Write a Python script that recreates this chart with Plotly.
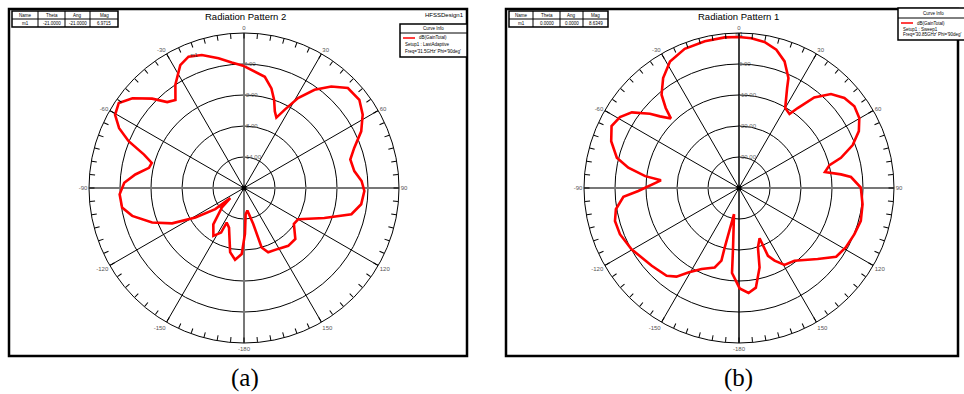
import plotly.graph_objects as go

W, H = 964, 394

# ---------------- data ----------------
# Panel (a): Radiation Pattern 2  (theta in deg, clockwise from top; gain in dB)
theta_a = [0, 10.6, 15.4, 18.9, 21.9, 24.7, 27.5, 31, 35.7, 40.7, 46.1, 52.6, 58.3, 64.2, 70, 75,
           81.3, 86.6, 91.4, 97.9, 103.7, 110.5, 120, 125.8, 134.8, 142.6, 150.8, 159.4, 163.5,
           165.6, 171.5, 176.4, 178.8, 182, 187.1, 192.2, 200.7, 206.6, 207.2, 212.6, 220.2, 228.6,
           233.6, 233.7, 238.8, 243.8, 249.4, 256, 260.9, 267.1, 272.5, 277.1, 282, 285.2, 288.5,
           292.1, 295.6, 299.6, 304.2, 308.8, 314.2, 318.2, 322.1, 326.4, 332.6, 337.1, 342.4,
           348.9, 354.4, 360]
gain_a = [3.6, 1.9, 0.0, -2.0, -4.0, -5.0, -2.9, 0.3, 3.4, 5.9, 7.9, 8.1, 7.0, 5.2, 2.7, 1.3,
          1.6, 2.8, 3.3, 2.9, 1.4, -3.4, -7.9, -8.1, -6.0, -5.9, -6.5, -6.7, -8.0,
          -12.8, -15.6, -14.9, -11.1, -7.2, -6.0, -7.3, -11.8, -12.5, -10.3, -9.0, -10.8, -14.3,
          -16.7, -13.1, -9.0, -4.5, -1.0, 2.3, 3.9, 4.1, 3.2, 1.2, -1.2, -1.5, 0.4,
          4.1, 6.8, 8.7, 9.3, 7.7, 4.8, 2.3, 1.6, 4.0, 6.8, 7.6, 7.0,
          5.6, 4.4, 3.6]

# Panel (b): Radiation Pattern 1
theta_b = [0, 4.7, 9.9, 15.1, 19.8, 24.2, 25.7, 30, 34.3, 36.3, 39.7, 44.4, 49.5, 54.7, 59.8,
           64.6, 69.3, 73.5, 75.8, 79.5, 82.4, 84.4, 89.8, 97.5, 105.1, 111.8, 119.1, 125.3,
           132.1, 142.7, 149.4, 153.9, 156.9, 157.7, 162.3, 165.5, 170.4, 174.8, 179.6, 184.7,
           185.7, 190.8, 193.5, 193.6, 197, 204.8, 211, 215.2, 219.5, 228.3, 240.3, 248.8,
           255.1, 260.2, 265.6, 268.3, 275.6, 277.2, 280.4, 283.9, 290.1, 295.9, 300.8, 305.2,
           309.8, 312.2, 315.6, 317.5, 320.3, 325.4, 331.4, 338.7, 346.9, 354.6, 360]
gain_b = [8.7, 8.5, 7.8, 6.2, 3.4, -1.1, -4.2, -10.2, -11.1, -8.0, -2.0, 2.4, 4.7, 5.6, 4.9,
          2.8, -0.8, -5.7, -9.9, -11.8, -6.8, -3.7, -0.7, 0.2, 0.7, 0.1, -0.6, -1.6,
          -5.8, -10.5, -11.2, -13.9, -16.2, -22.5, -19.9, -13.5, -7.4, -6.0, -7.6, -12.5,
          -20.7, -31.4, -20.3, -15.9, -13.2, -11.2, -8.2, -5.0, -3.3, -2.3, -0.1, 1.2,
          1.4, 0.3, -2.6, -7.5, -14.7, -9.5, -3.7, 0.6, 3.9, 5.7, 4.7, 2.3,
          -2.6, -5.6, -8.6, -5.0, -0.9, 3.1, 6.5, 8.2, 8.6, 8.8, 8.7]

range_a = [-20, 10]
rticks_a = [-14, -8, -2, 4]
rtext_a = ["-14.00", "-8.00", "-2.00", "4.00"]
range_b = [-40, 10]
rticks_b = [-30, -20, -10, 0]
rtext_b = ["-30.00", "-20.00", "-10.00", "0.00"]

ang_vals = list(range(0, 360, 5))
ang_major = {0: "0", 30: "30", 60: "60", 90: "90", 120: "120", 150: "150", 180: "-180",
             210: "-150", 240: "-120", 270: "-90", 300: "-60", 330: "-30"}
ang_text = [ang_major.get(v, "") for v in ang_vals]

marker_a = dict(theta=-21.0, mag=6.9715)
marker_b = dict(theta=0.0, mag=8.6349)

table_head = ["Name", "Theta", "Ang", "Mag"]
table_a = ["m1", "-21.0000", "-21.0000", "6.9715"]
table_b = ["m1", "0.0000", "0.0000", "8.6349"]

titles = ["Radiation Pattern 2", "Radiation Pattern 1"]
legend_a = ["dB(GainTotal)", "Setup1 : LastAdaptive", "Freq='31.5GHz' Phi='90deg'"]
legend_b = ["dB(GainTotal)", "Setup1 : Sweep1", "Freq='30.85GHz' Phi='90deg'"]
captions = ["(a)", "(b)"]

# ---------------- figure ----------------
FONT = "Liberation Sans, Arial, sans-serif"
def px(x): return x / W
def py(y): return 1 - y / H

fig = go.Figure()

R = 155
centers = [(244, 188), (739, 188)]

def add_panel(sub, th, g, rng, mk, tv, tt, vstyle):
    # spokes every 30 deg
    for t in (30, 60, 120, 150):
        fig.add_trace(go.Scatterpolar(r=[rng[1], rng[0], rng[1]], theta=[t, t, t + 180], mode="lines",
                                      line=dict(color="black", width=1), hoverinfo="skip",
                                      showlegend=False, subplot=sub))
    fig.add_trace(go.Scatterpolar(r=[rng[1], rng[0], rng[1]], theta=[90, 90, 270], mode="lines",
                                  line=dict(color="#777777", width=2), hoverinfo="skip",
                                  showlegend=False, subplot=sub))
    fig.add_trace(go.Scatterpolar(r=[rng[1], rng[0], rng[1]], theta=[0, 0, 180], mode="lines",
                                  line=vstyle, hoverinfo="skip", showlegend=False, subplot=sub))
    # radial tick labels, to the right of the vertical axis
    fig.add_trace(go.Scatterpolar(r=tv, theta=[0] * len(tv), mode="text", text=tt,
                                  textposition="middle right", hoverinfo="skip",
                                  textfont=dict(size=6, color="#666666", family=FONT),
                                  showlegend=False, subplot=sub))
    fig.add_trace(go.Scatterpolar(r=g, theta=th, mode="lines", line=dict(color="#ff0000", width=2.6),
                                  showlegend=False, subplot=sub))
    fig.add_trace(go.Scatterpolar(r=[rng[0]], theta=[0], mode="markers",
                                  marker=dict(color="black", size=5), showlegend=False, subplot=sub))
    fig.add_trace(go.Scatterpolar(r=[mk["mag"]], theta=[mk["theta"]], mode="text", text=["m1"],
                                  textposition="top center", textfont=dict(size=5, color="#333", family=FONT),
                                  showlegend=False, subplot=sub))

add_panel("polar", theta_a, gain_a, range_a, marker_a, rticks_a, rtext_a, dict(color="#777777", width=2))
add_panel("polar2", theta_b, gain_b, range_b, marker_b, rticks_b, rtext_b, dict(color="black", width=1.5))

def polar_layout(c, rng, tv):
    cx, cy = c
    return dict(
        domain=dict(x=[px(cx - R), px(cx + R)], y=[py(cy + R), py(cy - R)]),
        bgcolor="white",
        angularaxis=dict(rotation=90, direction="clockwise", tickmode="array", tickvals=ang_vals,
                         ticktext=ang_text, ticks="inside", ticklen=5, tickcolor="black", tickwidth=1,
                         showgrid=False, showline=True, linecolor="black", linewidth=1,
                         tickfont=dict(size=6, color="#555555", family=FONT)),
        radialaxis=dict(range=rng, tickmode="array", tickvals=tv, showgrid=True,
                        gridcolor="black", gridwidth=1, showline=False, ticks="", angle=90,
                        showticklabels=False),
    )

shapes = []
annotations = []

def rect(x0, y0, x1, y1, w=1, fill=None):
    shapes.append(dict(type="rect", xref="paper", yref="paper", x0=px(x0), x1=px(x1), y0=py(y1), y1=py(y0),
                       line=dict(color="black", width=w), fillcolor=fill if fill else "rgba(0,0,0,0)"))

def line(x0, y0, x1, y1, w=1, color="black"):
    shapes.append(dict(type="line", xref="paper", yref="paper", x0=px(x0), x1=px(x1), y0=py(y0), y1=py(y1),
                       line=dict(color=color, width=w)))

def text(x, y, s, size=5, anchor="left", color="black", family=FONT):
    annotations.append(dict(x=px(x), y=py(y), xref="paper", yref="paper", text=s, showarrow=False,
                            xanchor=anchor, yanchor="middle", font=dict(size=size, color=color, family=family)))

# frames
rect(9, 9, 467, 356, w=2.5)
rect(506, 9, 958, 356, w=2.5)

# titles
text(245, 16, titles[0], size=9.5, anchor="center")
text(738, 16, titles[1], size=9.5, anchor="center")
text(466, 15, "HFSSDesign1", size=6, anchor="right")

# tables
def table(x_edges, y0, y1, ym, vals):
    rect(x_edges[0], y0, x_edges[-1], y1, w=1.5, fill="white")
    line(x_edges[0], ym, x_edges[-1], ym)
    for xe in x_edges[1:-1]:
        line(xe, y0, xe, y1)
    for i in range(4):
        xc = (x_edges[i] + x_edges[i + 1]) / 2
        text(xc, (y0 + ym) / 2, table_head[i], size=4.5, anchor="center")
        text(xc, (ym + y1) / 2, vals[i], size=4.5, anchor="center")

table([12, 38, 65, 90, 118], 11, 27, 19, table_a)
table([509, 533, 560, 583, 608], 11, 27, 19, table_b)

# legends ("Curve Info")
def legend(x0, y0, x1, y1, ysep, lines_y, texts, hx):
    rect(x0, y0, x1, y1, w=1.5, fill="white")
    line(x0, ysep, x1, ysep)
    text(hx, (y0 + ysep) / 2, "Curve Info", size=4.5, anchor="center")
    line(x0 + 3, lines_y[0], x0 + 15, lines_y[0], w=1.5, color="#ff0000")
    text(x0 + 17, lines_y[0], texts[0], size=4.5)
    text(x0 + 3, lines_y[1], texts[1], size=4.5)
    text(x0 + 3, lines_y[2], texts[2], size=4.5)

legend(400, 24, 467, 57, 33, [38, 45, 52], legend_a, 433)
legend(898, 8, 966, 40, 18, [23, 29, 35], legend_b, 933)

# captions
text(245, 378, captions[0], size=25, anchor="center", family="Liberation Serif, Times New Roman, serif")
text(738, 378, captions[1], size=25, anchor="center", family="Liberation Serif, Times New Roman, serif")

fig.update_layout(
    width=W, height=H, margin=dict(l=0, r=0, t=0, b=0), paper_bgcolor="white",
    polar=polar_layout(centers[0], range_a, rticks_a),
    polar2=polar_layout(centers[1], range_b, rticks_b),
    shapes=shapes, annotations=annotations, showlegend=False,
)

fig.write_html("out.html")
